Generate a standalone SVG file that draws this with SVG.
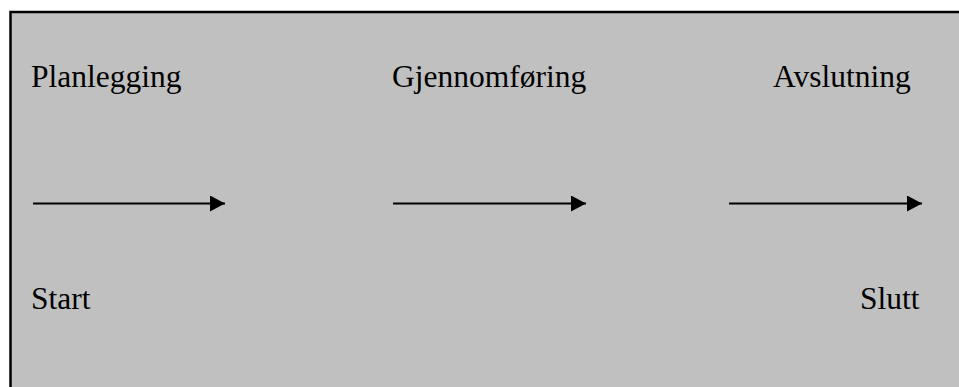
<svg xmlns="http://www.w3.org/2000/svg" width="959" height="387" viewBox="0 0 959 387">
<style>
.t{font-family:"Liberation Serif","Times New Roman",serif;font-size:31.5px;fill:#000}
.c{stroke:#000;stroke-width:2;fill:none}
</style>
<defs>
<marker id="ah" markerUnits="userSpaceOnUse" markerWidth="16" markerHeight="16" refX="15" refY="8" orient="auto">
<path d="M0,0 L15,8 L0,16 Z" fill="#000"/>
</marker>
</defs>
<rect x="0" y="0" width="959" height="387" fill="#fff"/>
<rect id="frame" x="10.5" y="12" width="970" height="400" fill="#c0c0c0" stroke="#000" stroke-width="2.5"/>
<g id="planlegging"><text class="t" x="31" y="87">Planlegging</text></g>
<g id="gjennomforing"><text class="t" x="392" y="87">Gjennomføring</text></g>
<g id="avslutning"><text class="t" x="773" y="87">Avslutning</text></g>
<g id="start"><text class="t" x="31" y="309">Start</text></g>
<g id="slutt"><text class="t" x="860" y="309">Slutt</text></g>
<g id="connectors">
<line class="c" x1="33" y1="203.5" x2="225" y2="203.5" marker-end="url(#ah)"/>
<line class="c" x1="393" y1="203.5" x2="586" y2="203.5" marker-end="url(#ah)"/>
<line class="c" x1="729" y1="203.5" x2="922" y2="203.5" marker-end="url(#ah)"/>
</g>
</svg>
